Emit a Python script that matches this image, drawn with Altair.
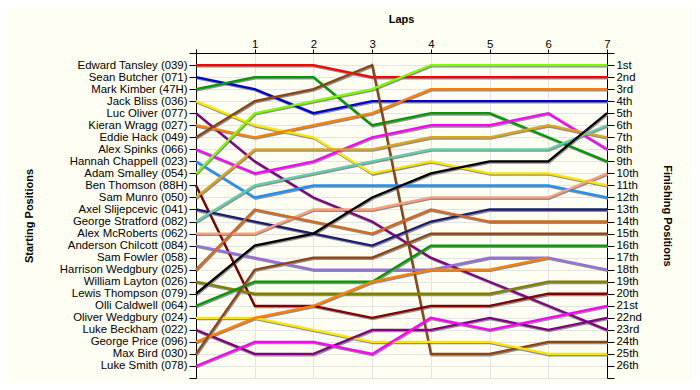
import json
import altair as alt
import pandas as pd

drivers = [
    "Edward Tansley (039)", "Sean Butcher (071)", "Mark Kimber (47H)", "Jack Bliss (036)",
    "Luc Oliver (077)", "Kieran Wragg (027)", "Eddie Hack (049)", "Alex Spinks (066)",
    "Hannah Chappell (023)", "Adam Smalley (054)", "Ben Thomson (88H)", "Sam Munro (050)",
    "Axel Slijepcevic (041)", "George Stratford (082)", "Alex McRoberts (062)",
    "Anderson Chilcott (084)", "Sam Fowler (058)", "Harrison Wedgbury (025)",
    "William Layton (026)", "Lewis Thompson (079)", "Olli Caldwell (064)",
    "Oliver Wedgbury (024)", "Luke Beckham (022)", "George Price (096)",
    "Max Bird (030)", "Luke Smith (078)",
]

finish_labels = [
    "1st", "2nd", "3rd", "4th", "5th", "6th", "7th", "8th", "9th", "10th",
    "11th", "12th", "13th", "14th", "15th", "16th", "17th", "18th", "19th", "20th",
    "21st", "22nd", "23rd", "24th", "25th", "26th",
]

laps = [0, 1, 2, 3, 4, 5, 6, 7]

# position of each driver (in starting order) after each lap; None = no data
lap0 = [1, 2, 3, 4, 5, 6, 7, 8, 9, 10, 11, 12, 13, 14, 15, 16, None, 18, 19, 20, 21, 22, 23, 24, 25, 26]
lap1 = [1, 3, 2, 6, 9, 7, 4, 10, 12, 5, 21, 8, 14, 11, 15, 17, None, 13, 20, 16, 19, 22, 25, 22, 18, 24]
lap2 = [1, 5, 2, 7, 12, 6, 3, 9, 11, 4, 21, 8, 15, 10, 13, 18, None, 14, 20, 15, 19, 23, 25, 21, 17, 24]
lap3 = [2, 4, 6, 10, 14, 5, 1, 7, 11, 3, 22, 8, 16, 9, 13, 18, None, 15, 20, 12, 19, 24, 23, 19, 17, 25]
lap4 = [2, 4, 5, 9, 17, 3, 25, 6, 11, 1, 21, 7, 14, 8, 12, 18, None, 13, 20, 10, 16, 24, 23, 18, 15, 22]
lap5 = [2, 4, 5, 10, 19, 3, 25, 6, 11, 1, 21, 7, 13, 8, 12, 17, None, 14, 20, 9, 16, 24, 22, 18, 15, 23]
lap6 = [2, 4, 7, 10, 21, 3, 24, 5, 11, 1, 20, 6, 13, 8, 12, 17, None, 14, 19, 9, 16, 25, 23, 17, 15, 22]
lap7 = [2, 4, 9, 11, 23, 3, 24, 8, 12, 1, 20, 7, 13, 6, 10, 18, None, 14, 19, 5, 16, 25, 22, None, 15, 21]

colors = [
    "#FF0000", "#0000CC", "#009A00", "#FFE600", "#800080", "#FF8000", "#8B4513", "#FF00FF",
    "#1E90FF", "#7CFC00", "#800000", "#DAA520", "#1C1C72", "#66CDAA", "#FFA07A",
    "#9370DB", "#999999", "#D2691E", "#808000", "#000000", "#009A00",
    "#FFE600", "#800080", "#FF8000", "#8B4513", "#FF00FF",
]

rows = []
for lap, col in zip(laps, [lap0, lap1, lap2, lap3, lap4, lap5, lap6, lap7]):
    for i, (d, p) in enumerate(zip(drivers, col)):
        if p is not None:
            rows.append({"driver": d, "idx": i, "lap": lap, "pos": p})
df = pd.DataFrame(rows)

names_js = "[" + ",".join(json.dumps(n) for n in drivers) + "]"
fin_js = "[" + ",".join(json.dumps(n) for n in finish_labels) + "]"

x_enc = alt.X(
    "lap:Q",
    scale=alt.Scale(domain=[0, 7], nice=False, zero=False),
    axis=alt.Axis(
        orient="top", values=laps, title="Laps", grid=True,
        labelExpr="datum.value == 0 ? '' : datum.label",
        tickSize=4, labelPadding=1.5, labelBaseline="alphabetic",
        titleX=205, titleY=-34, titleBaseline="middle", titleAlign="center",
    ),
)

y_scale = alt.Scale(domain=[0, 27], reverse=True, nice=False, zero=False)
ticks = list(range(28))

y_left = alt.Y(
    "pos:Q", scale=y_scale,
    axis=alt.Axis(
        orient="left", values=ticks, grid=True, title="Starting Positions",
        labelExpr=f"datum.value >= 1 && datum.value <= 26 ? {names_js}[datum.value-1] : ''",
        tickSize=7, labelPadding=2,
        titleX=-167, titleY=162.5, titleAngle=270, titleBaseline="middle", titleAlign="center",
    ),
)

y_right = alt.Y(
    "pos:Q", scale=y_scale,
    axis=alt.Axis(
        orient="right", values=ticks, grid=False, title="Finishing Positions",
        labelExpr=f"datum.value >= 1 && datum.value <= 26 ? {fin_js}[datum.value-1] : ''",
        tickSize=7, labelPadding=2,
        titleX=59, titleY=162.5, titleAngle=90, titleBaseline="middle", titleAlign="center",
    ),
)

base = alt.Chart(df)

shadow = base.mark_line(color="#8f8f8f", strokeWidth=2.3, xOffset=0.8, yOffset=1.3).encode(
    x=x_enc, y=y_left, detail="driver:N", order="lap:Q"
)

lines = base.mark_line(strokeWidth=2.3).encode(
    x=x_enc, y=y_right,
    color=alt.Color("driver:N", scale=alt.Scale(domain=drivers, range=colors), legend=None),
    order="lap:Q",
)

chart = (
    alt.layer(shadow, lines)
    .resolve_axis(y="independent")
    .properties(
        width=411, height=325,
        autosize=alt.AutoSizeParams(type="none"),
        padding={"left": 188, "top": 45, "right": 85, "bottom": 4},
        background="#FFFEF2",
    )
    .configure_view(stroke=None)
    .configure_axis(
        domainColor="#000000", tickColor="#000000", gridColor="#E4E4E4",
        labelFont="Liberation Sans", labelFontSize=11.4, labelColor="#000000",
        titleFont="Liberation Sans", titleFontSize=11, titleFontWeight="bold",
        titleColor="#000000", labelOverlap=False, labelBound=False, labelFlush=False,
    )
)

chart.save("out.html", embed_options={"renderer": "svg", "actions": False})
